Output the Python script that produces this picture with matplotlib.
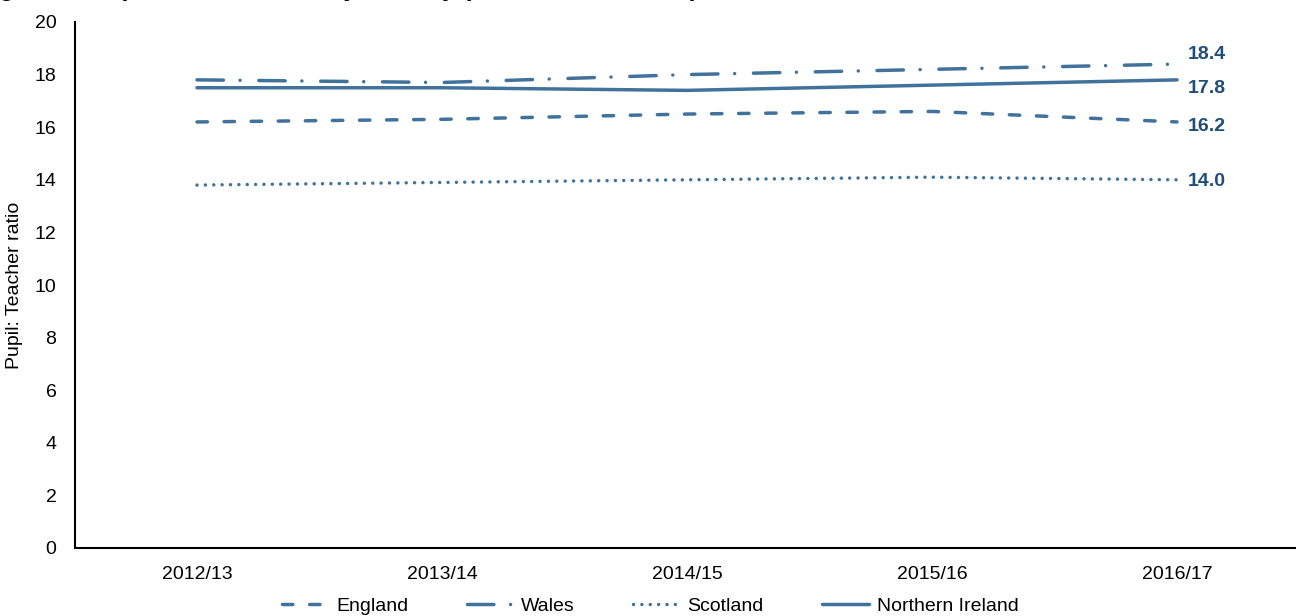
import matplotlib
matplotlib.use('Agg')
import matplotlib.pyplot as plt

plt.rcParams['font.family'] = ['Liberation Sans', 'DejaVu Sans']

# Pupil: teacher ratio by country
years = ['2012/13', '2013/14', '2014/15', '2015/16', '2016/17']
england = [16.2, 16.3, 16.5, 16.6, 16.2]
wales = [17.8, 17.7, 18.0, 18.2, 18.4]
scotland = [13.8, 13.9, 14.0, 14.1, 14.0]
northern_ireland = [17.5, 17.5, 17.4, 17.6, 17.8]
end_labels = ['16.2', '18.4', '14.0', '17.8']

line_color = '#41729B'
label_color = '#1F4E79'
lw = 2.5
fs = 14

fig = plt.figure(figsize=(12.96, 6.16), dpi=100)
ax = fig.add_axes([74.5 / 1296, 1 - 548 / 616, 1225 / 1296, (548 - 22) / 616])

x = list(range(len(years)))
series = [
    ('England', england, (0, (3.0, 4.8))),
    ('Wales', wales, (0, (7.6, 4.8, 0.01, 5.4))),
    ('Scotland', scotland, (0, (0.01, 2.4))),
    ('Northern Ireland', northern_ireland, '-'),
]
for name, vals, ls in series:
    ax.plot(x, vals, color=line_color, linewidth=lw, linestyle=ls,
            dash_capstyle='round', solid_capstyle='round', label=name)

# end-of-line value labels
offsets = [-3, 7, -1, -6]
for (name, vals, ls), txt, off in zip(series, end_labels, offsets):
    ax.annotate(txt, xy=(x[-1], vals[-1]), xytext=(8, off), textcoords='offset points',
                ha='left', va='center', fontsize=fs, fontweight='bold', color=label_color)

ax.set_xlim(-0.5, len(years) - 0.5)
ax.set_ylim(0, 20)
ax.set_yticks(range(0, 21, 2))
ax.set_xticks(x)
ax.set_xticklabels(years)
ax.tick_params(axis='both', length=0, labelsize=fs, colors='black')
ax.tick_params(axis='y', pad=13)
ax.tick_params(axis='x', pad=13)
ax.set_ylabel('Pupil: Teacher ratio', fontsize=fs, labelpad=8)
for s in ['top', 'right']:
    ax.spines[s].set_visible(False)
for s in ['left', 'bottom']:
    ax.spines[s].set_linewidth(1.5)
    ax.spines[s].set_color('black')

# title sits above the visible area; only its descenders show, as in the source
fig.text(-0.018, 1.007, 'Figure 6: Pupil: Teacher ratio by country (2012/13 to 2016/17)',
         fontsize=18, fontweight='bold', ha='left', va='baseline')

fig.legend(loc='center', bbox_to_anchor=(0.5015, 1 - 606 / 616), ncol=4, frameon=False,
           fontsize=fs, handlelength=2.4, handletextpad=0.4, columnspacing=3.0)

fig.savefig('out.png', dpi=100)
